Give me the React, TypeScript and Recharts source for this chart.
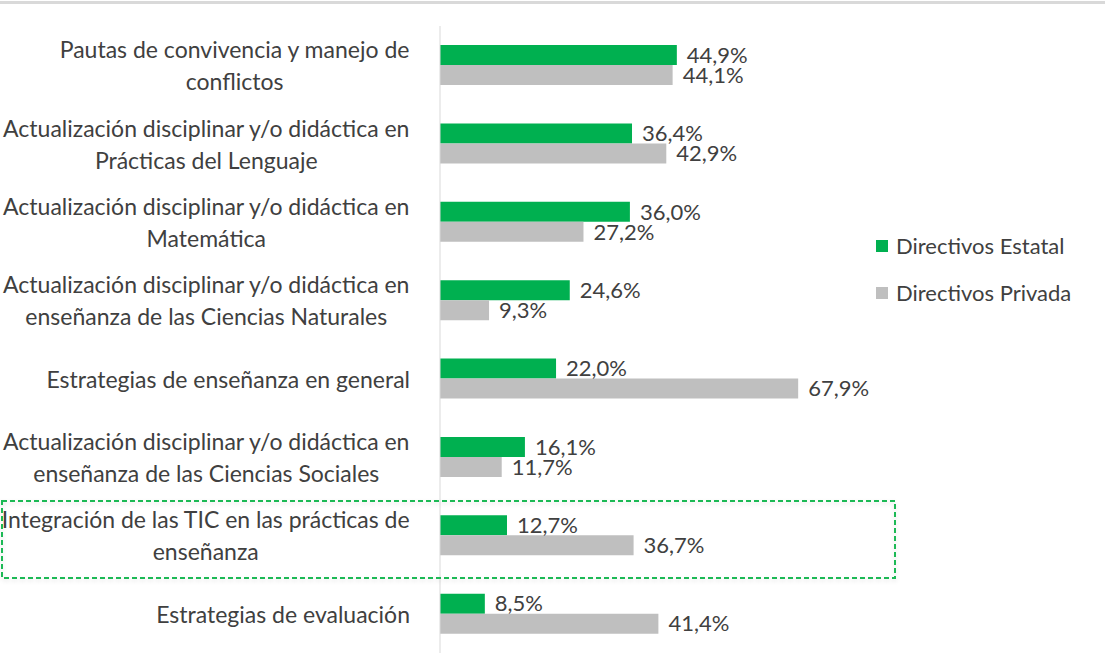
import { Bar, BarChart, LabelList, XAxis, YAxis } from "recharts";

// Categories, top to bottom. "\n" marks where the label wraps.
const categories = [
  "Pautas de convivencia y manejo de\nconflictos",
  "Actualización disciplinar y/o didáctica en\nPrácticas del Lenguaje",
  "Actualización disciplinar y/o didáctica en\nMatemática",
  "Actualización disciplinar y/o didáctica en\nenseñanza de las Ciencias Naturales",
  "Estrategias de enseñanza en general",
  "Actualización disciplinar y/o didáctica en\nenseñanza de las Ciencias Sociales",
  "Integración de las TIC en las prácticas de\nenseñanza",
  "Estrategias de evaluación",
];

const estatal = [44.9, 36.4, 36.0, 24.6, 22.0, 16.1, 12.7, 8.5];
const privada = [44.1, 42.9, 27.2, 9.3, 67.9, 11.7, 36.7, 41.4];

const seriesNames = ["Directivos Estatal", "Directivos Privada"];
const seriesColors = ["#00B050", "#BFBFBF"];

const rows = categories.map((name, i) => ({
  name,
  estatal: estatal[i],
  privada: privada[i],
}));

const FONT = "Lato, 'Open Sans', sans-serif";
const TEXT = "#404040";
const CAT_SIZE = 23;
const VAL_SIZE = 22;

let ctx: CanvasRenderingContext2D | null = null;
function textWidth(s: string) {
  if (!ctx) ctx = document.createElement("canvas").getContext("2d");
  if (!ctx) return s.length * CAT_SIZE * 0.5;
  ctx.font = `${CAT_SIZE}px Lato`;
  return ctx.measureText(s).width;
}

// multi-line labels are centred on each other, the block is right aligned
function CategoryTick(props: any) {
  const { y, payload } = props;
  const right = 410;
  const lines: string[] = String(payload.value).split("\n");
  const w = Math.max(...lines.map(textWidth));
  const cx = right - w / 2;
  const lh = 32;
  const y0 = y - ((lines.length - 1) * lh) / 2;
  return (
    <g>
      {lines.map((l, i) => (
        <text
          key={i}
          x={lines.length > 1 ? cx : right}
          y={y0 + i * lh}
          textAnchor={lines.length > 1 ? "middle" : "end"}
          dominantBaseline="central"
          fill={TEXT}
          fontSize={CAT_SIZE}
          fontFamily={FONT}
        >
          {l}
        </text>
      ))}
    </g>
  );
}

const pct = (v: any) => `${Number(v).toFixed(1).replace(".", ",")}%`;

export default function App() {
  return (
    <div
      style={{
        position: "absolute",
        left: 0,
        top: 0,
        width: 1105,
        height: 670,
        background: "#fff",
        overflow: "hidden",
      }}
    >
      <div
        style={{
          position: "absolute",
          left: 0,
          top: 1,
          width: 1105,
          height: 3,
          background: "#d9d9d9",
        }}
      />
      <BarChart
        width={1105}
        height={670}
        data={rows}
        layout="vertical"
        margin={{ top: 26, right: 243, bottom: 17, left: 0 }}
        barSize={20}
        barGap={0}
      >
        <XAxis type="number" domain={[0, 80]} hide />
        <YAxis
          type="category"
          dataKey="name"
          width={440}
          tick={<CategoryTick />}
          tickLine={false}
          axisLine={{ stroke: "#d9d9d9" }}
          interval={0}
        />
        <Bar
          dataKey="estatal"
          name={seriesNames[0]}
          fill={seriesColors[0]}
          isAnimationActive={false}
        >
          <LabelList
            dataKey="estatal"
            position="right"
            offset={10}
            formatter={pct}
            fill={TEXT}
            fontSize={VAL_SIZE}
            fontFamily={FONT}
          />
        </Bar>
        <Bar
          dataKey="privada"
          name={seriesNames[1]}
          fill={seriesColors[1]}
          isAnimationActive={false}
        >
          <LabelList
            dataKey="privada"
            position="right"
            offset={10}
            formatter={pct}
            fill={TEXT}
            fontSize={VAL_SIZE}
            fontFamily={FONT}
          />
        </Bar>
      </BarChart>
      <div
        style={{
          position: "absolute",
          left: 876,
          top: 222,
          fontFamily: FONT,
          fontSize: VAL_SIZE,
          color: TEXT,
        }}
      >
        {seriesNames.map((n, i) => (
          <div
            key={n}
            style={{ display: "flex", alignItems: "center", height: 47 }}
          >
            <span
              style={{
                width: 12,
                height: 12,
                background: seriesColors[i],
                marginRight: 8,
                display: "inline-block",
              }}
            />
            {n}
          </div>
        ))}
      </div>
      {/* highlight box around the TIC row */}
      <svg
        width={1105}
        height={670}
        style={{ position: "absolute", left: 0, top: 0, pointerEvents: "none" }}
      >
        <defs>
          <filter id="soft" x="-5%" y="-20%" width="110%" height="140%">
            <feDropShadow dx="0" dy="2" stdDeviation="2" floodColor="#000" floodOpacity="0.12" />
          </filter>
        </defs>
        <rect
          x={2}
          y={501}
          width={893}
          height={77}
          fill="none"
          stroke="#1DB954"
          strokeWidth={2}
          strokeDasharray="5 3"
          filter="url(#soft)"
        />
      </svg>
    </div>
  );
}
